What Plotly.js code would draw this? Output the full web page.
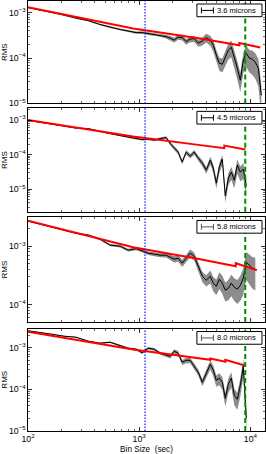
<!DOCTYPE html>
<html><head><meta charset="utf-8">
<script src="https://cdn.plot.ly/plotly-3.0.1.min.js"></script>
<style>html,body{margin:0;padding:0;background:#fff}#chart{width:266px;height:454px}</style>
</head><body><div id="chart"></div>
<script>
// Bin sizes (sec), shared by all four channels
const binSize = [100,128,164,211,270,347,445,548,674,796,940,1064,1205,1365,1545,1750,1902,2066,2244,2438,2649,2878,3127,3402,3698,4018,4365,4645,4943,5260,5598,5957,6339,6745,7178,7638,8128,8650,9204,9795,10423,11092,11803,12560];
// Fractional uncertainty of the RMS at each bin size (grey band)
const relErr = [0.02,0.02,0.025,0.03,0.03,0.035,0.04,0.045,0.05,0.055,0.06,0.065,0.07,0.075,0.08,0.09,0.11,0.12,0.13,0.14,0.145,0.15,0.16,0.17,0.2,0.22,0.25,0.28,0.3,0.32,0.34,0.36,0.38,0.4,0.42,0.44,0.46,0.48,0.5,0.52,0.55,0.57,0.6,0.65];
// Measured RMS per channel
const rms36 = [1.30e-3,1.15e-3,1.01e-3,8.9e-4,7.6e-4,6.7e-4,5.5e-4,4.8e-4,4.25e-4,3.94e-4,3.65e-4,3.65e-4,3.47e-4,3.38e-4,3.21e-4,2.97e-4,2.75e-4,2.49e-4,2.90e-4,2.82e-4,2.31e-4,2.62e-4,2.69e-4,2.14e-4,2.37e-4,2.82e-4,2.49e-4,1.93e-4,1.16e-4,7.7e-5,7.3e-5,1.05e-4,1.50e-4,1.74e-4,1.05e-4,6.0e-5,3.25e-5,9.0e-5,1.28e-4,9.96e-5,9.5e-5,8.1e-5,6.0e-5,1.51e-5];
const rms45 = [9.8e-4,8.6e-4,7.66e-4,6.70e-4,5.86e-4,5.67e-4,4.65e-4,4.06e-4,3.56e-4,3.21e-4,2.91e-4,2.72e-4,2.81e-4,2.63e-4,2.91e-4,3.11e-4,2.11e-4,1.54e-4,1.18e-4,6.07e-5,1.18e-4,9.06e-5,1.18e-4,7.92e-5,5.68e-5,3.56e-5,6.93e-5,4.06e-5,1.49e-5,4.34e-5,7.41e-5,6.3e-6,2.08e-5,3.11e-5,1.82e-5,4.97e-5,3.11e-5,3.80e-5,1.22e-5,null,null,null,null,null];
const rms58 = [2.69e-3,2.38e-3,2.12e-3,1.88e-3,1.67e-3,1.55e-3,1.32e-3,1.04e-3,1.00e-3,8.54e-4,9.06e-4,8.37e-4,7.59e-4,7.30e-4,7.01e-4,7.01e-4,6.48e-4,5.98e-4,6.22e-4,5.11e-4,6.22e-4,7.59e-4,6.73e-4,4.54e-4,3.05e-4,2.61e-4,3.05e-4,2.32e-4,2.06e-4,2.72e-4,2.32e-4,1.76e-4,1.90e-4,2.32e-4,1.98e-4,1.83e-4,2.14e-4,2.82e-4,5.32e-4,4.72e-4,4.20e-4,4.03e-4,null,null];
const rms80 = [2.53e-3,2.33e-3,2.08e-3,1.87e-3,1.77e-3,1.42e-3,1.27e-3,1.34e-3,1.10e-3,9.62e-4,9.10e-4,7.50e-4,9.62e-4,9.10e-4,7.30e-4,6.53e-4,6.18e-4,8.15e-4,7.30e-4,4.44e-4,4.95e-4,4.95e-4,3.56e-4,2.56e-4,1.47e-4,2.42e-4,3.98e-4,2.86e-4,1.64e-4,1.84e-4,1.47e-4,6.08e-5,1.32e-4,1.84e-4,7.18e-5,5.75e-5,1.25e-4,3.56e-4,2.02e-5,null,null,null,null,null];
// Expected white-noise RMS (red) per channel
const red36X = [100,883,3548,7962,7962,12300];
const red36Y = [1.316e-3,4.47e-4,2.71e-4,1.91e-4,2.15e-4,1.71e-4];
const red45X = [100,883,3548,5834,5834,9016];
const red45Y = [1.0e-3,3.33e-4,1.88e-4,1.54e-4,1.82e-4,1.40e-4];
const red58X = [100,883,3548,7396,7396,11460];
const red58Y = [2.72e-3,9.61e-4,5.98e-4,4.54e-4,5.11e-4,3.87e-4];
const red80X = [100,883,2339,4365,4365,5957,5957,9100];
const red80Y = [2.39e-3,8.95e-4,6.35e-4,5.10e-4,5.45e-4,4.56e-4,5.09e-4,3.66e-4];
const channelLabels = ['3.6 microns','4.5 microns','5.8 microns','8.0 microns'];
// Reference bin sizes marked by vertical lines (blue dotted, green dashed)
const refBinSizes = [1130, 9000];

const FONT = 'Arial, "Liberation Sans", sans-serif';
const W = 266, H = 454;
const M = {l:28, r:1.3, t:1, b:23.3};
const plotW = W - M.l - M.r, plotH = H - M.t - M.b;
const panels = [
  {rms: rms36, rx: red36X, ry: red36Y, range:[-5.0,-2.741], dom:[0.7619,1], hc:'#000'},
  {rms: rms45, rx: red45X, ry: red45Y, range:[-5.658,-2.661], dom:[0.5097,0.7503], hc:'#000'},
  {rms: rms58, rx: red58X, ry: red58Y, range:[-4.298,-2.508], dom:[0.2537,0.4966], hc:'#555'},
  {rms: rms80, rx: red80X, ry: red80Y, range:[-5.0,-2.544], dom:[0,0.2383], hc:'#555'}
];

const traces = [], shapes = [], annotations = [];
const layout = {
  width: W, height: H, margin: M, showlegend: false,
  paper_bgcolor: '#fff', plot_bgcolor: '#fff',
  font: {family: FONT, color: '#000', size: 8}
};

panels.forEach((p, k) => {
  const s = k === 0 ? '' : String(k + 1);
  const xa = 'x' + s, ya = 'y' + s;
  let len = p.rms.indexOf(null); if (len < 0) len = p.rms.length;
  const xs = binSize.slice(0, len), ys = p.rms.slice(0, len), es = relErr.slice(0, len);
  const up = ys.map((v, j) => v * (1 + es[j]));
  const lo = ys.map((v, j) => v * (1 - es[j]));
  traces.push({x: xs.concat(xs.slice().reverse()), y: up.concat(lo.slice().reverse()),
    xaxis: xa, yaxis: ya, mode: 'lines', fill: 'toself', fillcolor: '#8c8c8c',
    line: {width: 0, color: '#8c8c8c'}, hoverinfo: 'skip'});
  traces.push({x: xs, y: ys, xaxis: xa, yaxis: ya, mode: 'lines',
    line: {color: '#000', width: 1}, name: channelLabels[k]});
  traces.push({x: p.rx, y: p.ry, xaxis: xa, yaxis: ya, mode: 'lines',
    line: {color: '#ff0000', width: 2}});

  const bottom = k === 3;
  const xax = {
    type: 'log', range: [2, 4.132], domain: [0, 1], anchor: ya,
    showline: true, mirror: 'allticks', linecolor: '#000', linewidth: 1,
    ticks: 'inside', ticklen: 4, tickwidth: 0.8, tickcolor: '#000',
    dtick: 1, exponentformat: 'power', showticklabels: bottom,
    tickfont: {family: FONT, size: 7, color: '#000'},
    minor: {ticks: 'inside', ticklen: 2, tickwidth: 0.6, tickcolor: '#000', dtick: 'D1'},
    showgrid: false, zeroline: false, fixedrange: true
  };
  if (bottom) xax.title = {text: 'Bin Size\u00a0 (sec)', font: {family: FONT, size: 8.2}, standoff: 4};
  else xax.matches = 'x4';
  layout['xaxis' + s] = xax;
  layout['yaxis' + s] = {
    type: 'log', range: p.range, domain: p.dom, anchor: xa,
    showline: true, mirror: 'allticks', linecolor: '#000', linewidth: 1,
    ticks: 'inside', ticklen: 4, tickwidth: 0.8, tickcolor: '#000',
    dtick: 1, exponentformat: 'power',
    tickfont: {family: FONT, size: 7, color: '#000'},
    minor: {ticks: 'inside', ticklen: 2, tickwidth: 0.6, tickcolor: '#000', dtick: 'D1'},
    showgrid: false, zeroline: false, fixedrange: true,
    title: {text: 'RMS', font: {family: FONT, size: 8}, standoff: 3}
  };

  // vertical reference lines
  shapes.push({type: 'line', xref: xa, yref: ya + ' domain', x0: refBinSizes[0], x1: refBinSizes[0], y0: 0, y1: 1,
    line: {color: '#2222ff', width: 1.3, dash: '1.5px,1.5px'}});
  shapes.push({type: 'line', xref: xa, yref: ya + ' domain', x0: refBinSizes[1], x1: refBinSizes[1], y0: 0, y1: 1,
    line: {color: '#009000', width: 2, dash: '5px,3px'}});

  // legend box (px offsets from panel top-right)
  const hPx = (p.dom[1] - p.dom[0]) * plotH;
  const fx = px => 1 - px / plotW;      // px from right edge
  const fy = px => 1 - px / hPx;        // px from top edge
  shapes.push({type: 'rect', xref: xa + ' domain', yref: ya + ' domain',
    x0: fx(68), x1: fx(3), y0: fy(15.7), y1: fy(3),
    line: {color: '#000', width: 1}, fillcolor: '#fff'});
  const yc = fy(9.4);
  shapes.push({type: 'line', xref: xa + ' domain', yref: ya + ' domain', x0: fx(63.5), x1: fx(51.5), y0: yc, y1: yc,
    line: {color: p.hc, width: 1}});
  [63.5, 51.5].forEach(o => shapes.push({type: 'line', xref: xa + ' domain', yref: ya + ' domain',
    x0: fx(o), x1: fx(o), y0: fy(6.4), y1: fy(12.4), line: {color: p.hc, width: 1}}));
  annotations.push({xref: xa + ' domain', yref: ya + ' domain', x: fx(49), y: yc,
    xanchor: 'left', yanchor: 'middle', showarrow: false, text: channelLabels[k],
    borderpad: 0, font: {family: FONT, size: 7.5, color: '#000'}});
});

layout.shapes = shapes;
layout.annotations = annotations;
Plotly.newPlot('chart', traces, layout, {staticPlot: true, displayModeBar: false});
</script>
</body></html>
